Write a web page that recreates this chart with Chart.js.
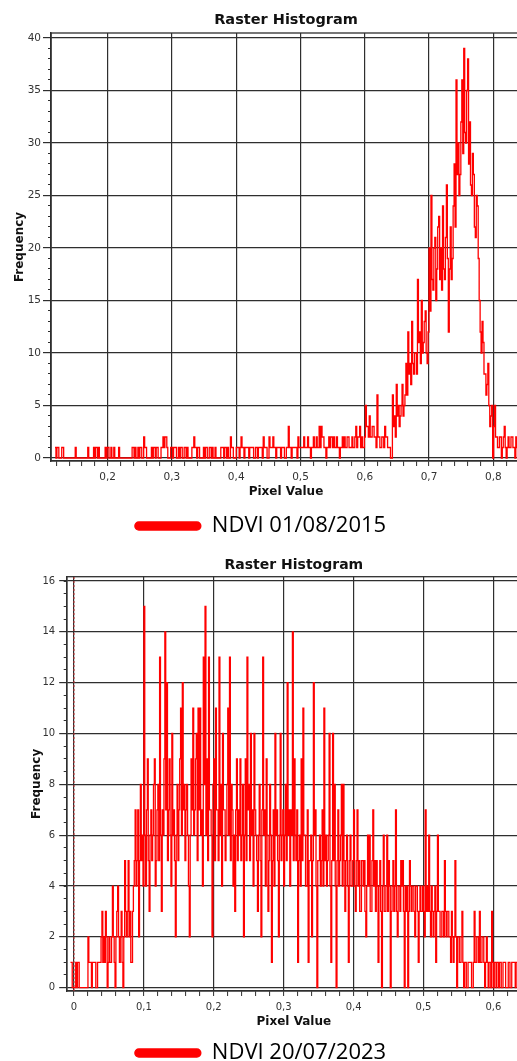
<!DOCTYPE html>
<html><head><meta charset="utf-8">
<script src="https://cdn.jsdelivr.net/npm/chart.js@4.4.1/dist/chart.umd.min.js"></script>
<style>
html,body{margin:0;padding:0;background:#fff;overflow:hidden;width:517px;height:1061px;position:relative}
.box{position:absolute;left:0;width:525px}
#b1{top:0;height:547px}
#b2{top:545px;height:529px}
</style></head><body>
<div class="box" id="b1"><canvas id="c1" width="525" height="547"></canvas></div>
<div class="box" id="b2"><canvas id="c2" width="525" height="529"></canvas></div>
<script>
// ---------- DATA ----------
const legendLabels = ['NDVI 01/08/2015', 'NDVI 20/07/2023'];
const chartTitle = 'Raster Histogram';
const xAxisTitle = 'Pixel Value';
const yAxisTitle = 'Frequency';

// NDVI 2015 histogram: first bin value, bin width, frequency per bin
const binStart2015 = 0.118;
const binWidth2015 = 0.0015;
const freq2015 = [
  1,0,1,1,0,0,0,1,1,0,0,0,0,0,0,0,0,0,0,0,
  0,1,0,0,0,0,0,0,0,0,0,0,0,0,1,0,0,0,0,0,
  1,0,1,1,0,1,0,0,0,0,0,0,1,0,1,1,0,0,1,0,
  0,1,0,0,0,0,1,0,0,0,0,0,0,0,0,0,0,0,0,0,
  1,1,0,1,0,0,1,0,1,1,0,0,2,1,1,0,0,0,0,0,
  1,0,1,1,0,1,1,0,0,0,1,1,2,1,2,2,1,0,0,0,
  1,1,0,1,1,1,0,0,1,0,1,1,0,0,1,1,0,1,0,0,
  0,0,1,1,2,1,1,0,1,1,0,0,0,0,1,0,1,1,0,0,
  1,1,0,1,0,0,1,0,0,0,0,0,1,1,1,0,1,1,0,1,
  0,0,2,1,1,0,0,0,1,1,1,0,1,2,1,1,0,1,1,1,
  1,0,1,1,1,1,0,0,1,1,0,1,1,1,1,0,2,1,1,1,
  0,0,2,1,1,1,2,1,1,0,1,1,1,1,0,1,1,1,0,0,
  1,1,3,1,1,0,1,1,1,1,1,0,2,1,1,1,1,1,2,1,
  1,1,2,1,1,0,1,1,2,1,1,2,1,1,3,1,3,2,2,1,
  1,0,1,1,2,1,2,2,1,2,1,1,2,1,1,0,1,1,2,1,
  2,1,1,2,2,1,1,1,2,1,1,2,3,1,2,2,3,1,2,1,
  1,2,5,3,3,2,4,2,2,3,3,2,2,1,6,2,2,1,1,2,
  2,1,3,2,2,1,1,1,0,0,6,3,4,2,7,4,5,3,4,5,
  7,4,5,6,9,6,12,8,9,7,13,9,8,10,10,8,17,11,12,9,
  15,10,11,13,14,10,9,12,20,14,25,17,16,20,21,15,18,22,23,17,
  20,16,24,18,17,21,26,19,12,18,22,17,19,24,28,22,36,27,30,25,
  27,32,36,29,39,31,30,35,38,28,32,26,25,29,27,22,21,25,24,19,
  15,12,10,13,11,8,8,6,7,9,5,3,4,5,0,3,5,2,2,1,
  1,2,2,0,1,2,3,1,0,1,2,1,1,2,2,1,1,0,2,1,
  1,1,0,1
];

// NDVI 2023 histogram
const binStart2023 = -0.005;
const binWidth2023 = 0.00125;
const freq2023 = [
  1,1,0,0,0,0,1,0,1,1,0,0,0,0,0,0,0,0,0,0,
  2,1,1,1,0,1,1,1,1,0,0,1,1,1,1,2,3,1,2,1,
  3,2,0,1,2,1,1,2,4,2,1,0,2,3,4,2,1,2,3,1,
  0,2,5,3,2,3,5,2,3,1,1,3,4,5,7,4,5,7,2,5,
  8,5,6,4,15,6,4,7,9,5,3,6,7,5,6,8,9,4,5,7,
  8,5,13,6,3,7,6,9,14,7,12,5,7,9,6,4,10,6,7,5,
  2,6,8,5,7,9,11,6,12,7,8,5,7,8,6,4,2,6,9,7,
  11,6,7,9,10,5,11,7,11,6,7,4,13,8,15,6,9,5,13,7,
  7,6,2,8,9,5,11,7,7,5,13,6,8,4,10,7,7,5,6,8,
  11,6,13,5,8,7,4,6,3,7,9,5,7,6,9,5,6,8,2,6,
  9,5,13,7,8,5,10,6,7,4,10,7,6,5,3,6,8,5,2,7,
  13,6,7,4,9,6,3,5,8,6,1,5,7,4,10,6,7,5,2,6,
  10,5,6,7,4,6,8,5,12,6,7,4,7,6,14,5,9,6,5,7,
  1,5,6,4,9,5,11,6,6,4,4,7,1,5,5,6,2,5,12,6,
  7,4,0,5,5,6,4,5,7,4,11,5,6,4,5,6,10,4,1,5,
  10,5,8,4,0,5,7,4,5,6,8,4,8,5,3,5,6,4,1,5,
  6,4,4,5,7,4,3,5,7,4,5,3,3,5,5,4,5,3,2,4,
  6,4,6,3,3,5,7,4,5,3,5,4,1,4,5,3,0,4,6,3,
  3,4,6,3,5,4,0,3,4,5,3,4,7,3,2,4,4,3,5,4,
  5,3,0,4,3,4,0,3,5,4,3,4,4,3,2,4,4,3,1,3,
  4,3,3,4,3,2,7,3,4,3,6,3,2,4,3,2,3,4,1,3,
  6,3,3,2,2,3,3,2,5,3,2,3,3,2,2,1,3,2,1,2,
  5,2,0,2,2,1,1,2,3,1,0,1,1,0,0,1,1,1,1,0,
  0,1,3,1,1,2,2,1,3,1,1,2,2,1,0,1,2,1,0,1,
  1,0,3,1,0,1,1,0,1,1,0,1,1,0,0,1,1,1,0,0,
  0,1,1,0,0,1,1,1,1,0,1,1,1,0,0,1
];
const markerX2023 = [0];

// tick labels / axes
const xMajor2015 = [0.2,0.3,0.4,0.5,0.6,0.7,0.8];
const yMajor2015 = [0,5,10,15,20,25,30,35,40];
const xMajor2023 = [0,0.1,0.2,0.3,0.4,0.5,0.6];
const yMajor2023 = [0,2,4,6,8,10,12,14,16];
const xRange2015 = [0.1118, 0.8431], yRange2015 = [-0.286, 40.476];
const xRange2023 = [-0.0104, 0.6395], yRange2023 = [-0.13, 16.17];

// ---------- HELPERS ----------
function stepTicks(lo, hi, step){
  const out=[]; const n=Math.round((hi-lo)/step);
  for(let k=0;k<=n;k++) out.push(+(lo+k*step).toFixed(6));
  return out;
}
function isIn(v, arr){ return arr.some(a => Math.abs(a-v) < 1e-6); }
function fmt(v){ return Math.abs(v)<1e-9 ? '0' : v.toFixed(1).replace('.', ','); }
const GRID = '#2e2e2e';
const framePlugin = {
  id:'frame',
  beforeDatasetsDraw(chart){
    const {ctx, chartArea:a} = chart;
    ctx.save(); ctx.strokeStyle=GRID; ctx.lineWidth=1.3;
    ctx.strokeRect(a.left, a.top, a.right-a.left, a.bottom-a.top);
    ctx.restore();
  }
};

function build(id, o){
  const pts = o.freq.map((v,i)=>({x: +(o.binStart + i*o.binWidth).toFixed(6), y: v}));
  const datasets = [{
    label: o.label, data: pts, borderColor:'#ff0000', backgroundColor:'#ff0000',
    borderWidth:1.3, pointRadius:0, stepped:true, tension:0, xAxisID:'x', yAxisID:'y'
  }];
  if (o.marker) {
    o.marker.forEach(mx => datasets.push({
      label:'marker', data:[{x:mx,y:o.yRange[0]},{x:mx,y:o.yRange[1]}], xAxisID:'x', yAxisID:'y',
      borderColor:'rgba(190,50,50,0.9)', borderWidth:1.2, borderDash:[2,2], pointRadius:0
    }));
  }
  const xAll = stepTicks(o.xMinorLo, o.xMinorHi, o.xMinorStep);
  const yAll = stepTicks(o.yMajor[0], o.yMajor[o.yMajor.length-1], o.yMinorStep);
  return new Chart(document.getElementById(id), {
    type:'line',
    data:{datasets},
    plugins:[framePlugin],
    options:{
      responsive:false, animation:false, devicePixelRatio:1,
      layout:{padding:{left:0,right:4,top:0,bottom:0}},
      plugins:{
        title:{display:false},
        legend:{display:true, position:'bottom',
          labels:{filter:(it)=>it.datasetIndex===0, boxWidth:66, boxHeight:8, useBorderRadius:true, borderRadius:4,
            color:'#000', font:{family:'Open Sans', size:22}, padding:o.legendPad}},
        tooltip:{enabled:false}
      },
      scales:{
        x:{type:'linear', position:'bottom', min:o.xRange[0], max:o.xRange[1],
          afterBuildTicks: s => { s.ticks = xAll.map(v=>({value:v})); },
          afterFit: s => { s.height = 39; },
          ticks:{autoSkip:false, maxRotation:0, includeBounds:false, padding:5, color:'#333',
            font:{family:'DejaVu Sans', size:o.tickSize},
            callback:(v)=> isIn(v, o.xMajor) ? fmt(v) : ''},
          grid:{color:(c)=> (c.tick && isIn(c.tick.value, o.xMajor)) ? GRID : 'rgba(0,0,0,0)',
            lineWidth:1.2, tickColor:GRID, tickWidth:1, tickLength:5, drawTicks:true},
          border:{display:true, color:GRID, width:1.3},
          title:{display:true, text:xAxisTitle, color:'#111',
            font:{family:'DejaVu Sans', size:12, weight:'bold', lineHeight:1.2},
            padding:{top:0, bottom:o.xTitlePadBottom}}
        },
        xTop:{type:'linear', position:'top', min:o.xRange[0], max:o.xRange[1],
          afterFit: s => { s.height = o.topH; },
          ticks:{display:false},
          grid:{display:false, drawTicks:false},
          border:{display:false},
          title:{display:true, text:chartTitle, color:'#111',
            font:{family:'DejaVu Sans', size:o.titleSize, weight:'bold', lineHeight:1.2},
            padding:{top:o.titlePadTop, bottom:0}}
        },
        y:{type:'linear', position:'left', weight:1, min:o.yRange[0], max:o.yRange[1],
          afterBuildTicks: s => { s.ticks = o.yMajor.map(v=>({value:v})); },
          afterFit: s => { s.width = o.yWidth; },
          ticks:{autoSkip:false, includeBounds:false, padding:o.yTickPad, color:'#333',
            font:{family:'DejaVu Sans', size:o.tickSize}, callback:(v)=>String(v)},
          grid:{color:GRID, lineWidth:1.2, tickColor:GRID, tickWidth:1.2, tickLength:o.yTickLen},
          border:{display:true, color:GRID, width:1.3},
          title:{display:true, text:yAxisTitle, color:'#111',
            font:{family:'DejaVu Sans', size:12, weight:'bold', lineHeight:1.2},
            padding:{top:o.yTitlePadTop, bottom:0}}
        },
        yMinor:{type:'linear', position:'left', weight:0, min:o.yRange[0], max:o.yRange[1],
          afterBuildTicks: s => { s.ticks = yAll.map(v=>({value:v})); },
          afterFit: s => { s.width = 0; },
          ticks:{display:false},
          grid:{drawOnChartArea:false, tickColor:GRID, tickWidth:1, tickLength:3},
          border:{display:true, color:GRID, width:1.3}
        }
      }
    }
  });
}

build('c1', {
  label: legendLabels[0], freq: freq2015, binStart: binStart2015, binWidth: binWidth2015,
  xRange: xRange2015, yRange: yRange2015, xMajor: xMajor2015, yMajor: yMajor2015,
  xMinorLo: 0.12, xMinorHi: 0.84, xMinorStep: 0.02, yMinorStep: 1,
  titleSize: 14.5, titlePadTop: 11.3, topH: 33, tickSize: 10.5,
  yWidth: 51, yTickPad: 2, yTickLen: 8, yTitlePadTop: 12.3, xTitlePadBottom: 0.8, legendPad: 15
});
build('c2', {
  label: legendLabels[1], freq: freq2023, binStart: binStart2023, binWidth: binWidth2023,
  xRange: xRange2023, yRange: yRange2023, xMajor: xMajor2023, yMajor: yMajor2023, marker: markerX2023,
  xMinorLo: 0, xMinorHi: 0.62, xMinorStep: 0.02, yMinorStep: 0.5,
  titleSize: 14, titlePadTop: 11.6, topH: 31.7, tickSize: 10,
  yWidth: 66.7, yTickPad: 4, yTickLen: 7.5, yTitlePadTop: 29.3, xTitlePadBottom: 1.1, legendPad: 12
});
</script>
</body></html>
